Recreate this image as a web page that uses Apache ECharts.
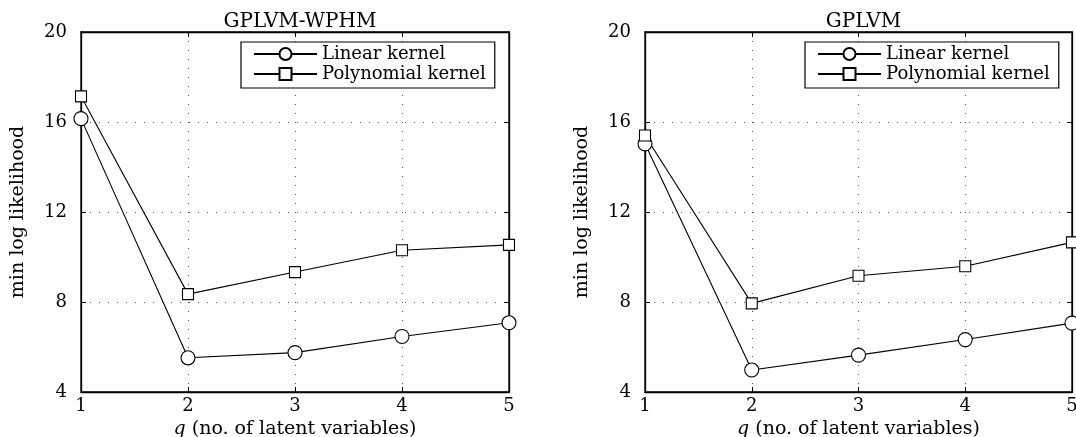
<!DOCTYPE html>
<html>
<head>
<meta charset="utf-8">
<script src="https://cdn.jsdelivr.net/npm/echarts@6/dist/echarts.min.js"></script>
<style>
html,body{margin:0;padding:0;background:#fff;}
#chart{width:1076px;height:437px;}
</style>
</head>
<body>
<div id="chart"></div>
<script>
// ---- data ----
const qValues = [1, 2, 3, 4, 5];
const yTicks = [4, 8, 12, 16, 20];
const panelTitles = ['GPLVM-WPHM', 'GPLVM'];
const seriesNames = ['Linear kernel', 'Polynomial kernel'];
const wphmLinear = [16.15, 5.52, 5.75, 6.47, 7.08];
const wphmPoly = [17.14, 8.35, 9.33, 10.3, 10.54];
const gplvmLinear = [15.03, 4.98, 5.64, 6.33, 7.06];
const gplvmPoly = [15.40, 7.94, 9.17, 9.59, 10.65];

const FONT = 'DejaVu Serif';
const panels = [
  {left: 81, width: 428, title: panelTitles[0], lin: wphmLinear, poly: wphmPoly},
  {left: 645, width: 427, title: panelTitles[1], lin: gplvmLinear, poly: gplvmPoly}
];
const TOP = 32, HEIGHT = 360;

const grids = [], xAxes = [], yAxes = [], series = [], titles = [], legends = [];
panels.forEach((p, i) => {
  grids.push({left: p.left, top: TOP, width: p.width, height: HEIGHT, show: true,
    borderColor: '#000', borderWidth: 1.3, containLabel: false, outerBoundsMode: 'none'});
  const xBase = {type: 'value', gridIndex: i, min: qValues[0], max: qValues[qValues.length - 1], interval: 1,
    axisLine: {show: true, lineStyle: {color: '#000', width: 1.3}},
    axisTick: {show: true, inside: true, length: 5, lineStyle: {color: '#000'}}};
  xAxes.push(Object.assign({}, xBase, {position: 'bottom',
    axisLabel: {show: true, color: '#000', fontFamily: FONT, fontSize: 18, margin: 5},
    splitLine: {show: true, lineStyle: {color: '#555', type: [1, 8], width: 1}},
    name: '{i|q} (no. of latent variables)', nameLocation: 'middle', nameGap: 28,
    nameTextStyle: {color: '#000', fontFamily: FONT, fontSize: 19,
      rich: {i: {fontStyle: 'italic', fontFamily: FONT, fontSize: 19, color: '#000'}}}}));
  xAxes.push(Object.assign({}, xBase, {position: 'top', axisLabel: {show: false}, splitLine: {show: false}}));
  const yBase = {type: 'value', gridIndex: i, min: yTicks[0], max: yTicks[yTicks.length - 1], interval: 4,
    axisLine: {show: true, lineStyle: {color: '#000', width: 1.3}},
    axisTick: {show: true, inside: true, length: 5, lineStyle: {color: '#000'}}};
  yAxes.push(Object.assign({}, yBase, {position: 'left',
    axisLabel: {show: true, color: '#000', fontFamily: FONT, fontSize: 18, margin: 14, padding: [5, 0, 0, 0]},
    splitLine: {show: true, lineStyle: {color: '#555', type: [1, 8], width: 1}},
    name: 'min log likelihood', nameLocation: 'middle', nameGap: 53, nameRotate: 90,
    nameTextStyle: {color: '#000', fontFamily: FONT, fontSize: 19}}));
  yAxes.push(Object.assign({}, yBase, {position: 'right', axisLabel: {show: false}, splitLine: {show: false}}));

  titles.push({text: p.title, left: p.left + p.width / 2, top: 7, textAlign: 'center',
    textStyle: {color: '#000', fontFamily: FONT, fontSize: 20, fontWeight: 'normal'}});

  const mk = (name, vals, sym, size) => ({
    name: name, type: 'line', xAxisIndex: 2 * i, yAxisIndex: 2 * i,
    data: qValues.map((q, k) => [q, vals[k]]),
    symbol: sym, symbolSize: size, showAllSymbol: true,
    lineStyle: {color: '#000', width: 1.1},
    itemStyle: {color: '#fff', borderColor: '#000', borderWidth: 1.1},
    emphasis: {disabled: true}, animation: false, z: 3
  });
  series.push(mk(seriesNames[0], p.lin, 'circle', 14));
  series.push(mk(seriesNames[1], p.poly, 'rect', 11));

  legends.push({show: true, orient: 'vertical', left: p.left + 160, top: 42,
    data: seriesNames, itemWidth: 63, itemHeight: 15, itemGap: 2,
    padding: [3, 9, 5, 12], borderColor: '#000', borderWidth: 1.2, backgroundColor: '#fff',
    selectedMode: false,
    textStyle: {color: '#000', fontFamily: FONT, fontSize: 18, lineHeight: 18},
    z: 10});
});

const chart = echarts.init(document.getElementById('chart'), null, {renderer: 'canvas'});
chart.setOption({
  animation: false,
  backgroundColor: '#fff',
  title: titles,
  grid: grids,
  xAxis: xAxes,
  yAxis: yAxes,
  legend: legends,
  series: series
});
</script>
</body>
</html>
